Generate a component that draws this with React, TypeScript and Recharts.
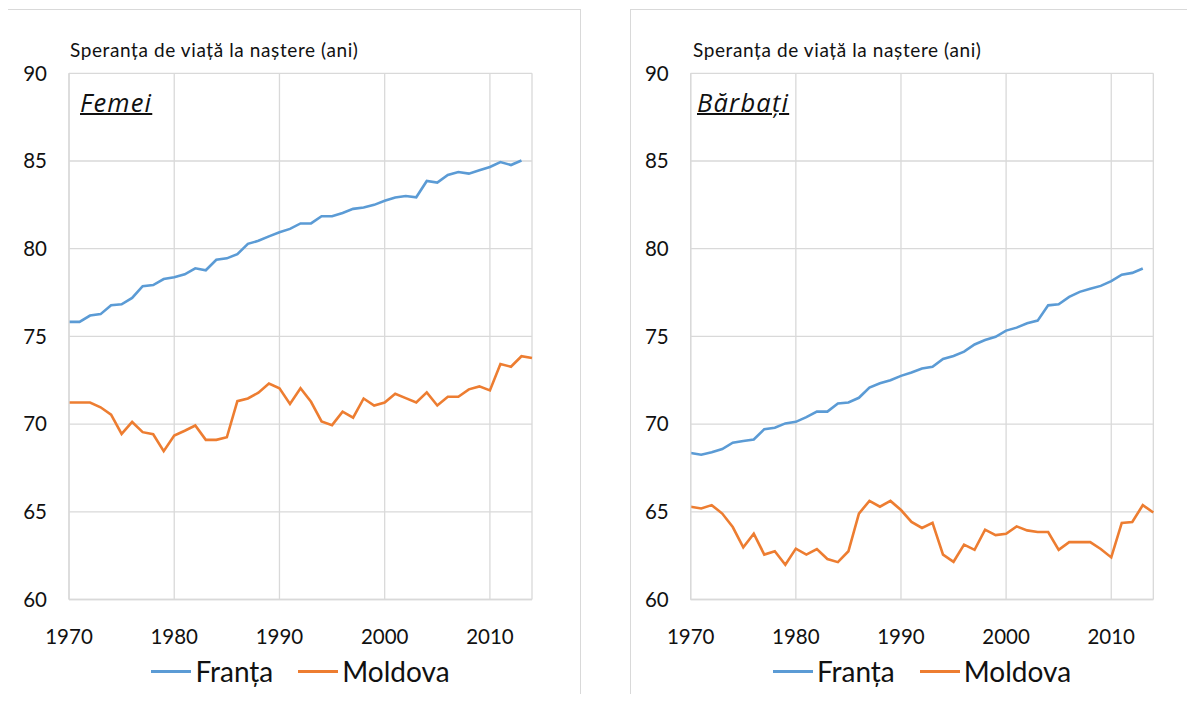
import { CartesianGrid, Line, LineChart, XAxis, YAxis } from "recharts";

const years = [
  1970, 1971, 1972, 1973, 1974, 1975, 1976, 1977, 1978, 1979,
  1980, 1981, 1982, 1983, 1984, 1985, 1986, 1987, 1988, 1989,
  1990, 1991, 1992, 1993, 1994, 1995, 1996, 1997, 1998, 1999,
  2000, 2001, 2002, 2003, 2004, 2005, 2006, 2007, 2008, 2009,
  2010, 2011, 2012, 2013, 2014,
];

// femei
const femeiFranta = [
  75.83, 75.83, 76.19, 76.27, 76.78, 76.83, 77.19, 77.86, 77.93, 78.27,
  78.37, 78.54, 78.88, 78.77, 79.37, 79.45, 79.69, 80.28, 80.45, 80.7,
  80.94, 81.13, 81.44, 81.44, 81.85, 81.85, 82.04, 82.27, 82.35, 82.5,
  82.73, 82.92, 83.0, 82.93, 83.86, 83.77, 84.2, 84.37, 84.28, 84.47,
  84.66, 84.94, 84.77, 85.03,
];
const femeiMoldova = [
  71.23, 71.23, 71.23, 70.96, 70.54, 69.44, 70.12, 69.54, 69.42, 68.46,
  69.35, 69.62, 69.92, 69.1, 69.1, 69.25, 71.31, 71.46, 71.79, 72.31,
  72.04, 71.15, 72.04, 71.27, 70.15, 69.94, 70.71, 70.37, 71.46, 71.06,
  71.23, 71.73, 71.48, 71.23, 71.81, 71.06, 71.56, 71.56, 71.98, 72.15,
  71.92, 73.42, 73.27, 73.87, 73.77,
];

// barbati
const barbatiFranta = [
  68.35, 68.25, 68.4, 68.58, 68.94, 69.04, 69.12, 69.71, 69.79, 70.04,
  70.13, 70.4, 70.71, 70.71, 71.17, 71.23, 71.5, 72.08, 72.33, 72.5,
  72.75, 72.94, 73.17, 73.27, 73.71, 73.88, 74.13, 74.54, 74.79, 74.98,
  75.33, 75.5, 75.75, 75.9, 76.77, 76.83, 77.25, 77.54, 77.71, 77.88,
  78.15, 78.52, 78.62, 78.87,
];
const barbatiMoldova = [
  65.29, 65.19, 65.38, 64.9, 64.13, 62.98, 63.75, 62.56, 62.75, 61.98,
  62.9, 62.56, 62.88, 62.31, 62.13, 62.75, 64.9, 65.62, 65.29, 65.62,
  65.1, 64.42, 64.08, 64.37, 62.56, 62.15, 63.13, 62.83, 63.98, 63.67,
  63.75, 64.17, 63.94, 63.85, 63.85, 62.83, 63.27, 63.27, 63.27, 62.88,
  62.4, 64.37, 64.42, 65.38, 64.96,
];

const xTicks = [1970, 1980, 1990, 2000, 2010];
const yTicks = [60, 65, 70, 75, 80, 85, 90];
const axisTitle = "Speranța de viață la naștere (ani)";

const BLUE = "#5b9bd5";
const ORANGE = "#ed7d31";
const GRID = "#d9d9d9";
const FONT = "Lato, 'Open Sans', sans-serif";

function buildRows(fr: number[], md: number[]) {
  return years.map((year, i) => ({ year, franta: fr[i], moldova: md[i] }));
}

interface PanelProps {
  boxLeft: number;
  plotLeft: number;
  plotRight: number;
  titleLeft: number;
  labelLeft: number;
  title: string;
  fr: number[];
  md: number[];
}

function Panel({ boxLeft, plotLeft, plotRight, titleLeft, labelLeft, title, fr, md }: PanelProps) {
  const W = 560;
  const H = 680;
  const rows = buildRows(fr, md);
  return (
    <div
      style={{
        position: "absolute",
        left: boxLeft,
        top: 9,
        width: 574,
        height: 720,
        border: `1px solid ${GRID}`,
        boxSizing: "border-box",
        background: "#fff",
      }}
    >
      <div style={{ position: "absolute", left: 0, top: 0 }}>
        <LineChart
          width={W}
          height={H}
          data={rows}
          margin={{ top: 63.3, right: W - plotRight, bottom: H - 589.5 - 40, left: 0 }}
        >
          <CartesianGrid stroke={GRID} strokeWidth={1.3} />
          <XAxis
            type="number"
            dataKey="year"
            domain={[1970, 2014]}
            ticks={xTicks}
            height={40}
            tickSize={0}
            tickMargin={30}
            axisLine={{ stroke: GRID, strokeWidth: 1.3 }}
            tick={{ fill: "#111", fontSize: 20.5, fontFamily: FONT }}
          />
          <YAxis
            type="number"
            domain={[60, 90]}
            ticks={yTicks}
            width={plotLeft}
            tickSize={0}
            tickMargin={22}
            axisLine={{ stroke: GRID, strokeWidth: 1.3 }}
            tick={{ fill: "#111", fontSize: 20.5, fontFamily: FONT }}
          />
          <Line dataKey="franta" stroke={BLUE} strokeWidth={2.6} dot={false} isAnimationActive={false} />
          <Line dataKey="moldova" stroke={ORANGE} strokeWidth={2.6} dot={false} isAnimationActive={false} />
        </LineChart>
      </div>
      <div
        style={{
          position: "absolute",
          left: labelLeft,
          top: 28,
          fontSize: 19,
          letterSpacing: 0.6,
          fontFamily: FONT,
          color: "#111",
          whiteSpace: "nowrap",
        }}
      >
        {axisTitle}
      </div>
      <div
        style={{
          position: "absolute",
          left: titleLeft,
          top: 80.4,
          fontSize: 25.5,
          lineHeight: "24px",
          letterSpacing: 1.2,
          fontFamily: "'Open Sans', sans-serif",
          fontStyle: "italic",
          textDecoration: "underline",
          textDecorationThickness: 2,
          color: "#111",
        }}
      >
        {title}
      </div>
      <div
        style={{
          position: "absolute",
          left: plotLeft,
          width: plotRight - plotLeft,
          top: 644,
          display: "flex",
          justifyContent: "center",
          alignItems: "center",
          fontFamily: FONT,
          fontSize: 28,
          color: "#111",
        }}
      >
        <span style={{ width: 40, height: 3, background: BLUE, marginRight: 4 }} />
        <span>Franța</span>
        <span style={{ width: 40, height: 3, background: ORANGE, marginLeft: 25, marginRight: 4 }} />
        <span>Moldova</span>
      </div>
    </div>
  );
}

export default function App() {
  return (
    <div
      style={{
        position: "relative",
        width: 1195,
        height: 702,
        margin: -8,
        overflow: "hidden",
        background: "#fff",
      }}
    >
      <Panel
        boxLeft={7}
        plotLeft={61}
        plotRight={524}
        titleLeft={72}
        labelLeft={62}
        title="Femei"
        fr={femeiFranta}
        md={femeiMoldova}
      />
      <Panel
        boxLeft={630}
        plotLeft={59.7}
        plotRight={522.3}
        titleLeft={66}
        labelLeft={62}
        title="Bărbați"
        fr={barbatiFranta}
        md={barbatiMoldova}
      />
    </div>
  );
}
